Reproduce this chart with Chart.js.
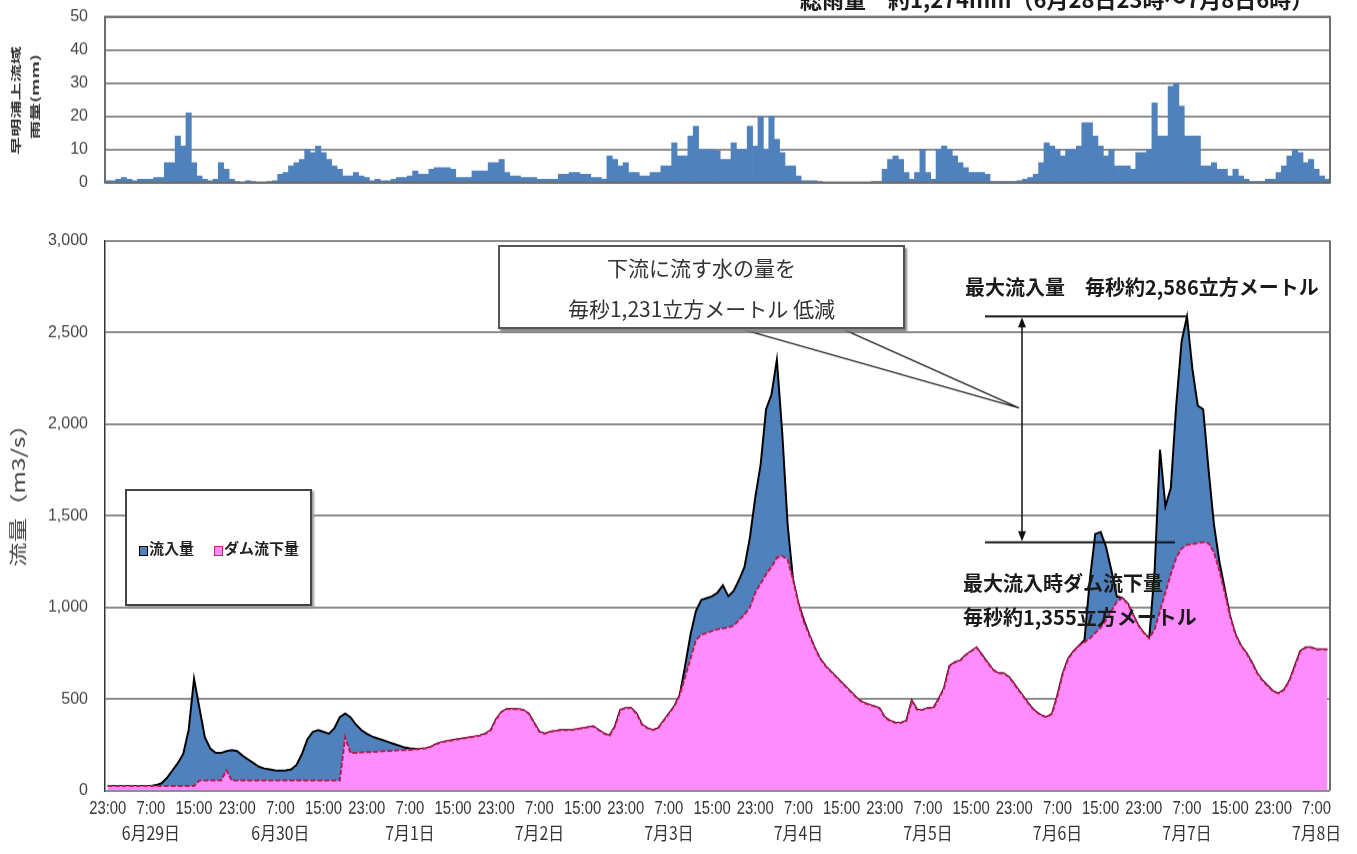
<!DOCTYPE html>
<html><head><meta charset="utf-8">
<script src="https://cdn.jsdelivr.net/npm/chart.js@4"></script>
<style>
body{margin:0;background:#fff;width:1357px;height:854px;overflow:hidden;position:relative;font-family:"Noto Sans CJK JP",sans-serif;}
#w1,#w2{position:absolute;left:0;width:1357px;}
.t{position:absolute;white-space:nowrap;color:#1a1a1a;transform-origin:left center;}
#callout{position:absolute;left:498px;top:245px;width:403px;height:80px;border:2px solid #555;background:#fff;box-shadow:2px 3px 2px #888;}
#callout div{position:absolute;left:0;width:100%;text-align:center;font-size:21px;color:#333;}
#legend{position:absolute;left:125px;top:489px;width:183px;height:113px;border:2px solid #444;background:#fff;box-shadow:2px 2px 2px #999;}
.sw{position:absolute;width:7px;height:8px;top:55px;}
.lt{position:absolute;top:46px;font-size:15px;font-weight:bold;color:#222;white-space:nowrap;}
</style></head><body>
<div id="w1" style="top:0px;height:200px;"><canvas id="c1"></canvas></div>
<div id="w2" style="top:230px;height:624px;"><canvas id="c2"></canvas></div>

<div class="t" style="left:800px;top:-13px;font-size:22px;font-weight:bold;line-height:22px;">総雨量　約1,274mm（6月28日23時～7月8日6時）</div>

<div id="callout">
  <div style="top:5px;">下流に流す水の量を</div>
  <div style="top:46px;">毎秒1,231立方メートル 低減</div>
</div>

<div class="t" style="left:965px;top:272px;font-size:20px;font-weight:bold;line-height:30px;">最大流入量　毎秒約2,586立方メートル</div>
<div class="t" style="left:963px;top:568px;font-size:20px;font-weight:bold;line-height:30px;">最大流入時ダム流下量</div>
<div class="t" style="left:963px;top:602px;font-size:20px;font-weight:bold;line-height:30px;">毎秒約1,355立方メートル</div>

<div id="legend">
  <div class="sw" style="left:12px;background:#4f81bd;border:1.5px solid #000;"></div>
  <div class="lt" style="left:22px;">流入量</div>
  <div class="sw" style="left:87px;background:#ff8cfc;border:1.5px solid #d0205a;"></div>
  <div class="lt" style="left:97px;">ダム流下量</div>
</div>

<script>
// ---- tick labels ----
const timeTicks = ['23:00', '7:00', '15:00'];
const dateTicks = ['6月29日','6月30日','7月1日','7月2日','7月3日','7月4日','7月5日','7月6日','7月7日','7月8日'];

// ---- hourly rainfall (mm), from 6/28 23:00 ----
const rain = [
0.5,0.5,1,1.5,1,0.5,1,1,1,1.5,1.5,
6,6,14,11,21,6,2,1,0.5,1,6,4,1,
0.3,0,0.5,0.3,0,0,0.3,0.5,
2.5,3,5,6,7,10,9,11,9,7,5,4,2,2,3,2,
1.5,0.5,1,0.5,0.5,1,1.5,1.5,
2,3.5,2.5,2.5,4,4.5,4.5,4.5,
4,1.5,1.5,1.5,3.5,3.5,3.5,6,
6,7,3,2,2,1.5,1.5,1.5,
1,1,1,1,2.5,2.5,3,3,
2.5,2.5,1.5,1.5,1,8,7,5,
6,3,3,2,2,3,3,5,
5,12,8,8,14,17,10,10,
10,9.5,7,7,12,10,10,17,
11,20,10,20,13,9,5,5,
2,0.5,0.5,0.5,0.3,0,0,0,
0,0,0,0,0,0,0.3,0.3,
4,7,8,7,3,1,3,10,
3,1,10,11,10,8,6,4.5,
3,3,3,2.5,0.3,0.3,0.3,0.3,
0.3,0.5,1,1.5,2.5,6,12,11,
10,8,10,10,11,18,18,14,
11,8,10,5,5,5,4,9,
9,10,24,14,14,29,30,23,
14,14,14,5,5,6,4,4,
2,4,2,1,0.3,0.3,0.3,1,
1,3,5,8,10,9,6,7,
4,2,1
];

// ---- hourly inflow (m3/s) ----
const inflow = [
25,25,25,25,25,25,25,25,25,30,40,70,110,150,200,330,610,450,290,230,205,205,215,220,
215,190,170,150,130,120,115,110,108,110,
115,140,200,280,320,330,320,310,340,400,
420,400,360,330,310,295,285,275,265,255,
245,235,230,228,228,230,240,
255,265,270,275,280,285,290,295,300,310,
330,390,430,445,445,445,440,420,370,320,
310,320,325,330,330,330,335,340,345,350,
330,310,300,350,440,450,450,420,360,340,
330,340,380,420,460,520,
680,850,980,1040,1050,1060,1080,1120,1060,1090,
1150,1220,1380,1600,1780,2080,2160,2350,1950,1450,
1150,1020,930,
850,
780,720,680,650,620,590,560,530,500,480,
470,460,450,400,380,370,370,380,490,440,
440,450,450,500,560,680,700,710,740,760,
780,740,700,660,640,640,620,580,540,500,
460,430,410,400,420,520,640,720,760,790,
820,1150,1400,1410,1330,1200,1060,1050,
1020,960,900,860,830,
1200,1860,1550,1650,2100,2450,2586,2300,2100,2080,1750,1450,1250,1100,
950,850,790,750,700,640,600,570,540,530,550,600,680,760,780,780,770,770,770
];

// ---- hourly dam outflow (m3/s) ----
const outflow = [
25,25,25,25,25,25,25,25,25,25,
25,25,25,25,25,25,25,
55,55,55,55,55,110,
55,55,55,55,55,55,55,55,55,55,
55,55,55,55,55,55,55,55,55,55,
55,
290,
205,205,208,210,210,212,215,215,218,220,220,222,
225,228,230,240,
255,265,270,275,280,285,290,295,300,310,
330,390,430,445,445,445,440,420,370,320,
310,320,325,330,330,330,335,340,345,350,
330,310,300,350,440,450,450,420,360,340,
330,340,380,420,460,520,620,720,820,850,
860,870,880,885,890,900,930,960,1000,1080,
1130,1180,1220,1270,1280,1260,1150,1020,920,850,
780,720,680,650,620,590,560,530,500,480,
470,460,450,400,380,370,370,380,490,440,
440,450,450,500,560,680,700,710,740,760,
780,740,700,660,640,640,620,580,540,500,
460,430,410,400,420,520,640,720,760,790,
810,830,860,890,930,980,1030,1050,1020,960,
900,860,830,880,980,1080,1180,1270,1320,1340,
1345,1350,1355,1350,1300,1200,1080,950,850,790,
750,700,640,600,570,540,530,550,600,680,
760,780,780,770,770,770
];

const maxIn = 2586, maxOut = 1355;
const hours = inflow.map((_, i) => i);
const gridColor = '#8a8a8a';
const tickFont = {family: '"Liberation Sans", Arial, sans-serif', size: 16};

// ---- rainfall chart ----
const ch1 = new Chart(document.getElementById('c1'), {
  type: 'bar',
  data: {labels: hours, datasets: [{data: rain, backgroundColor: '#4f81bd', borderWidth: 0, categoryPercentage: 1, barPercentage: 1}]},
  options: {
    responsive: true, maintainAspectRatio: false, animation: false,
    layout: {padding: {top: 12, right: 27, bottom: 12, left: 0}},
    plugins: {legend: {display: false}, tooltip: {enabled: false}},
    scales: {
      x: {offset: true, ticks: {display: false}, grid: {display: false}, border: {display: false}, afterFit: s => { s.height = 0; }},
      y: {min: 0, max: 50, ticks: {stepSize: 10, padding: 17, font: tickFont, color: '#444'},
          grid: {color: gridColor, lineWidth: 2, drawTicks: false}, border: {display: false},
          afterFit: s => { s.width = 105; }}
    }
  },
  plugins: [{
    id: 'frame1',
    afterDraw(chart) {
      const {ctx, chartArea: a} = chart;
      ctx.save();
      ctx.strokeStyle = '#6e6e6e'; ctx.lineWidth = 2;
      ctx.strokeRect(a.left, a.top, a.right - a.left, a.bottom - a.top);
      ctx.fillStyle = '#333'; ctx.textAlign = 'center'; ctx.textBaseline = 'middle';
      ctx.font = 'bold 18px "Noto Sans CJK JP"';
      const mid = (a.top + a.bottom) / 2;
      [['早明浦上流域', 16, mid + 1], ['雨量(mm)', 35, mid - 3]].forEach(([s, x, y]) => {
        ctx.save(); ctx.translate(x, y); ctx.rotate(-Math.PI / 2); ctx.scale(1, 0.6);
        ctx.fillText(s, 0, 0); ctx.restore();
      });
      ctx.restore();
    }
  }]
});

// ---- flow chart ----
const ch2 = new Chart(document.getElementById('c2'), {
  type: 'line',
  data: {labels: hours, datasets: [
    {label: 'ダム流下量', data: outflow, fill: 'origin', backgroundColor: '#ff8cfc', borderColor: '#b81a50',
     borderWidth: 2, borderDash: [5, 2], pointRadius: 0, tension: 0, order: 0},
    {label: '流入量', data: inflow, fill: 'origin', backgroundColor: '#4f81bd', borderColor: '#000',
     borderWidth: 2, pointRadius: 0, tension: 0, order: 1}
  ]},
  options: {
    responsive: true, maintainAspectRatio: false, animation: false,
    layout: {padding: {top: 4, right: 27, bottom: 4, left: 0}},
    plugins: {legend: {display: false}, tooltip: {enabled: false}},
    scales: {
      x: {offset: true, ticks: {display: false}, grid: {display: false}, border: {display: false}, afterFit: s => { s.height = 60; }},
      y: {min: 0, max: 3000, ticks: {stepSize: 500, padding: 17, font: tickFont, color: '#444'},
          grid: {color: gridColor, lineWidth: 2, drawTicks: false}, border: {display: true, color: '#333', width: 1.5},
          afterFit: s => { s.width = 105; }}
    }
  },
  plugins: [{
    id: 'annot',
    afterDatasetsDraw(chart) {
      const {ctx, chartArea: a, scales: {x, y}} = chart;
      const off = parseFloat(chart.canvas.parentNode.style.top); // page y of canvas top
      ctx.save();
      // right border
      ctx.strokeStyle = '#6e6e6e'; ctx.lineWidth = 2;
      ctx.beginPath(); ctx.moveTo(a.right, a.top); ctx.lineTo(a.right, a.bottom); ctx.stroke();
      // max lines
      const y1 = y.getPixelForValue(maxIn), y2 = y.getPixelForValue(maxOut);
      const px = x.getPixelForValue(inflow.indexOf(maxIn));
      ctx.strokeStyle = '#111'; ctx.lineWidth = 2;
      ctx.beginPath(); ctx.moveTo(985, y1); ctx.lineTo(px, y1); ctx.stroke();
      ctx.beginPath(); ctx.moveTo(985, y2); ctx.lineTo(1175, y2); ctx.stroke();
      // double arrow
      const ax = 1022;
      ctx.lineWidth = 1.5;
      ctx.beginPath(); ctx.moveTo(ax, y1 + 8); ctx.lineTo(ax, y2 - 8); ctx.stroke();
      ctx.fillStyle = '#111';
      ctx.beginPath(); ctx.moveTo(ax, y1 + 1); ctx.lineTo(ax - 4, y1 + 11); ctx.lineTo(ax + 4, y1 + 11); ctx.closePath(); ctx.fill();
      ctx.beginPath(); ctx.moveTo(ax, y2 - 1); ctx.lineTo(ax - 4, y2 - 11); ctx.lineTo(ax + 4, y2 - 11); ctx.closePath(); ctx.fill();
      // callout pointer: from the callout box bottom (page y 328) to the arrow
      ctx.strokeStyle = '#222'; ctx.lineWidth = 1.5;
      ctx.beginPath(); ctx.moveTo(737, 328 - off); ctx.lineTo(ax - 3, 408 - off); ctx.lineTo(840, 328 - off); ctx.stroke();
      // x labels
      ctx.fillStyle = '#333'; ctx.textAlign = 'center'; ctx.textBaseline = 'middle';
      for (let i = 0; i < inflow.length; i += 8) {
        const k = i / 8, p = x.getPixelForValue(i);
        ctx.save(); ctx.translate(p, a.bottom + 18); ctx.scale(0.78, 1);
        ctx.font = '19px "Liberation Sans", Arial, sans-serif';
        ctx.fillText(timeTicks[k % 3], 0, 0); ctx.restore();
        if (k % 3 === 1) {
          ctx.save(); ctx.translate(p, a.bottom + 43); ctx.scale(0.88, 1);
          ctx.font = '18px "Noto Sans CJK JP"';
          ctx.fillText(dateTicks[(k - 1) / 3], 0, 0); ctx.restore();
        }
      }
      // y title
      ctx.save(); ctx.translate(18, (a.top + a.bottom) / 2 - 26); ctx.rotate(-Math.PI / 2); ctx.scale(1.35, 1);
      ctx.font = '18px "Noto Sans CJK JP"'; ctx.fillStyle = '#444';
      ctx.fillText('流量（m3/s）', 0, 0); ctx.restore();
      ctx.restore();
    }
  }]
});

// place each plot area exactly where the reference has it (page pixels)
function place(chart, pageTop, pageBottom) {
  const wrap = chart.canvas.parentNode;
  for (let k = 0; k < 4; k++) {
    const a = chart.chartArea;
    const t = parseFloat(wrap.style.top), h = parseFloat(wrap.style.height);
    const nt = t + (pageTop - (t + a.top));
    const nh = h + (pageBottom - (nt + a.bottom));
    wrap.style.top = nt + 'px'; wrap.style.height = nh + 'px';
    chart.resize();
  }
  chart.update();
}
place(ch1, 17, 182);
place(ch2, 241, 790);
</script>
</body></html>
